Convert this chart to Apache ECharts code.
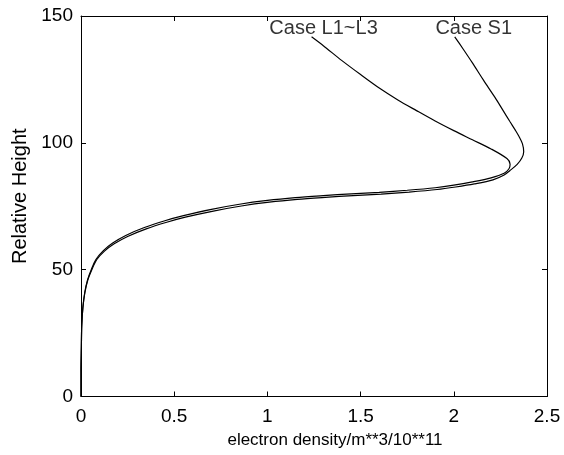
<!DOCTYPE html>
<html>
<head>
<meta charset="utf-8">
<script src="https://cdn.jsdelivr.net/npm/echarts@6/dist/echarts.min.js"></script>
<style>
  html, body { margin: 0; padding: 0; background: #fff; }
  #chart { width: 564px; height: 455px; }
</style>
</head>
<body>
<div id="chart"></div>
<script>
// Electron density profiles: [density (1e11 m^-3), relative height]
const caseL = [
  [0, 0], [0, 10], [0.002, 20], [0.004, 28], [0.01, 35], [0.02, 41], [0.035, 46],
  [0.055, 50], [0.08, 54], [0.12, 57.5], [0.17, 60.5], [0.24, 63.5], [0.34, 66.6],
  [0.45, 69.3], [0.55, 71.3], [0.7, 73.8], [0.85, 75.8], [1.0, 77.3], [1.15, 78.4],
  [1.3, 79.2], [1.45, 79.9], [1.6, 80.5], [1.75, 81.3], [1.9, 82.3], [2.0, 83.3],
  [2.1, 84.6], [2.2, 86.2], [2.27, 88.0], [2.296, 89.8], [2.302, 91.6], [2.285, 93.8],
  [2.2, 97.6], [2.1, 101.2], [2.0, 104.8], [1.9, 108.6], [1.8, 112.7], [1.7, 116.9],
  [1.6, 121.6], [1.5, 126.9], [1.4, 132.4], [1.3, 138.3], [1.237, 141.8]
];
const caseS1 = [
  [0, 0], [0, 10], [0.002, 20], [0.004, 28], [0.01, 35], [0.021, 41], [0.037, 46],
  [0.058, 50], [0.085, 54], [0.126, 57.3], [0.178, 60.2], [0.25, 63.1], [0.35, 66.1],
  [0.46, 68.7], [0.56, 70.7], [0.71, 73.1], [0.86, 75.1], [1.01, 76.6], [1.16, 77.7],
  [1.31, 78.5], [1.46, 79.2], [1.61, 79.8], [1.76, 80.6], [1.91, 81.6], [2.01, 82.6],
  [2.11, 83.8], [2.21, 85.4], [2.27, 87.3], [2.30, 89.0], [2.34, 91.5], [2.365, 94.0],
  [2.375, 96.5], [2.368, 99.7], [2.35, 102.5], [2.33, 105.0], [2.30, 108.5],
  [2.264, 112.8], [2.22, 118.0], [2.16, 124.6], [2.10, 131.5], [2.05, 137.0], [2.005, 141.8]
];
const seriesNames = ['Case L1~L3', 'Case S1'];
const xTicks = [0, 0.5, 1, 1.5, 2, 2.5];
const yTicks = [0, 50, 100, 150];

const FONT = '"Liberation Sans", Arial, sans-serif';

const chart = echarts.init(document.getElementById('chart'), null, { renderer: 'canvas' });

const sideAxis = {
  axisLine: { show: true, onZero: false, lineStyle: { color: '#000', width: 1 } },
  axisTick: { show: true, inside: true, length: 5, lineStyle: { color: '#000' } },
  axisLabel: { show: false },
  splitLine: { show: false }
};

// Case names sit at the upper end of each curve
const caseLabels = [
  { value: caseL[caseL.length - 1], name: seriesNames[0], label: { offset: [12, 3] } },
  { value: caseS1[caseS1.length - 1], name: seriesNames[1], label: { offset: [19, 3] } }
];

chart.setOption({
  animation: false,
  backgroundColor: '#fff',
  grid: { left: 81, right: 17, top: 16, bottom: 58.5 },
  xAxis: [{
    type: 'value', min: xTicks[0], max: xTicks[xTicks.length - 1], interval: 0.5,
    name: 'electron density/m**3/10**11', nameLocation: 'middle', nameGap: 35,
    nameTextStyle: { color: '#000', fontFamily: FONT, fontSize: 17, padding: [0, 0, 0, 42] },
    axisLine: { show: true, onZero: false, lineStyle: { color: '#000', width: 1 } },
    axisTick: { show: true, inside: true, length: 5, lineStyle: { color: '#000' } },
    axisLabel: { color: '#000', fontFamily: FONT, fontSize: 19, margin: 11 },
    splitLine: { show: false }
  }, Object.assign({ type: 'value', position: 'top', min: 0, max: 2.5, interval: 0.5 }, sideAxis)],
  yAxis: [{
    type: 'value', min: yTicks[0], max: yTicks[yTicks.length - 1], interval: 50,
    name: 'Relative Height', nameLocation: 'middle', nameGap: 45,
    nameTextStyle: { color: '#000', fontFamily: FONT, fontSize: 20, padding: [0, 0, 0, 20] },
    axisLine: { show: true, onZero: false, lineStyle: { color: '#000', width: 1 } },
    axisTick: { show: true, inside: true, length: 5, lineStyle: { color: '#000' } },
    axisLabel: { color: '#000', fontFamily: FONT, fontSize: 19, margin: 8 },
    splitLine: { show: false }
  }, Object.assign({ type: 'value', position: 'right', min: 0, max: 150, interval: 50 }, sideAxis)],
  series: [
    {
      name: seriesNames[0], type: 'line', smooth: 0.3, symbol: 'none',
      lineStyle: { color: '#000', width: 1.2 },
      data: caseL
    },
    {
      name: seriesNames[1], type: 'line', smooth: 0.3, symbol: 'none',
      lineStyle: { color: '#000', width: 1.2 },
      data: caseS1
    },
    {
      type: 'scatter', symbolSize: 2, itemStyle: { color: 'rgba(0,0,0,0)' }, silent: true,
      label: {
        show: true, position: 'top', distance: 0, formatter: '{b}',
        color: '#000', fontFamily: FONT, fontSize: 20
      },
      data: caseLabels
    }
  ]
});
</script>
</body>
</html>
